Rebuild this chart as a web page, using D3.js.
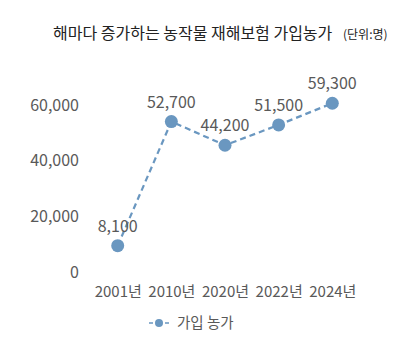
<!DOCTYPE html>
<html><head><meta charset="utf-8">
<script src="https://cdn.jsdelivr.net/npm/d3@7"></script>
<style>body{margin:0;background:#fff}svg{display:block}</style>
</head><body>
<svg id="c" width="415" height="360"></svg>
<script>
const categories = ["2001년","2010년","2020년","2022년","2024년"];
const values = [8100, 52700, 44200, 51500, 59300];
const yTicks = [0, 20000, 40000, 60000];
const title = "해마다 증가하는 농작물 재해보험 가입농가";
const unit = "(단위:명)";
const seriesName = "가입 농가";

const color = "#6a97c0";
const textColor = "#595959";
const font = "'Noto Sans CJK KR', 'Noto Sans', sans-serif";
const svg = d3.select("#c");

const x = d3.scalePoint().domain(categories).range([117.7, 332.3]);
const y = d3.scaleLinear().domain([0, 60000]).range([268.2, 101.3]);

svg.append("text").attr("x", 53).attr("y", 39).attr("font-family", font)
  .attr("font-size", 16).attr("fill", "#222").text(title);
svg.append("text").attr("x", 343).attr("y", 39).attr("font-family", font)
  .attr("font-size", 12).attr("fill", "#222").text(unit);

const fmt = d3.format(",");
// y axis
const yAxis = d3.axisLeft(y).tickValues(yTicks).tickSize(0).tickFormat(fmt);
const ga = svg.append("g").attr("transform", "translate(82,0)").call(yAxis);
ga.select(".domain").remove();
ga.selectAll("text").attr("font-family", font).attr("font-size", 16)
  .attr("fill", textColor).attr("dy", "0.55em").attr("x", -3);

// x axis
const xAxis = d3.axisBottom(x).tickSize(0);
const gx = svg.append("g").attr("transform", "translate(0,283)").call(xAxis);
gx.select(".domain").remove();
gx.selectAll("text").attr("font-family", font).attr("font-size", 15)
  .attr("fill", textColor).attr("dy", "0.71em");

const line = d3.line().x((d, i) => x(categories[i])).y(d => y(d));
svg.append("path").datum(values).attr("d", line).attr("fill", "none")
  .attr("stroke", color).attr("stroke-width", 2.2).attr("stroke-dasharray", "6,4");

svg.selectAll("circle.pt").data(values).join("circle").attr("class", "pt")
  .attr("cx", (d, i) => x(categories[i])).attr("cy", d => y(d)).attr("r", 6.5)
  .attr("fill", color);

svg.selectAll("text.lbl").data(values).join("text").attr("class", "lbl")
  .attr("x", (d, i) => x(categories[i])).attr("y", d => y(d) - 14)
  .attr("text-anchor", "middle").attr("font-family", font).attr("font-size", 16)
  .attr("fill", textColor).text(d => fmt(d));

// legend
const lg = svg.append("g").attr("transform", "translate(149,323)");
lg.append("line").attr("x1", 0).attr("x2", 20).attr("y1", 0).attr("y2", 0)
  .attr("stroke", color).attr("stroke-width", 1.5).attr("stroke-dasharray", "4,12");
lg.append("circle").attr("cx", 10).attr("cy", 0).attr("r", 4).attr("fill", color);
lg.append("text").attr("x", 28).attr("y", 5).attr("font-family", font)
  .attr("font-size", 14.5).attr("fill", textColor).text(seriesName);
</script>
</body></html>
